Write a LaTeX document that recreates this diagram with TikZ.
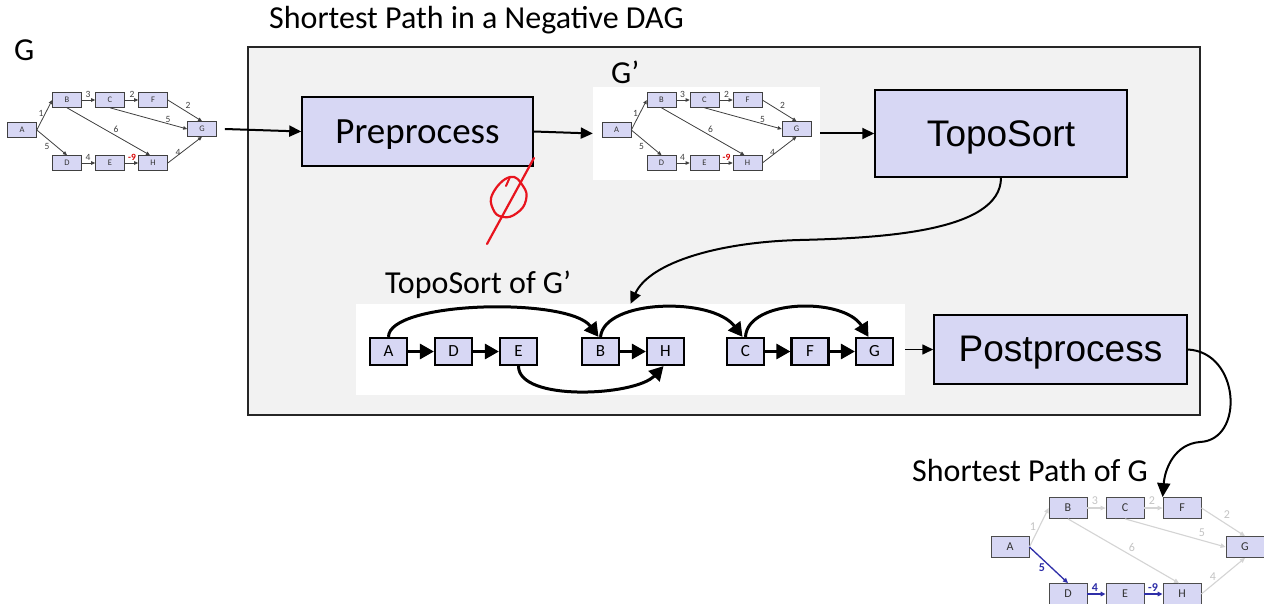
\documentclass[tikz,border=0pt]{standalone}
\usepackage{fontspec}
\setmainfont{Carlito}
\newfontfamily\arialfont{Liberation Sans}
\usetikzlibrary{arrows.meta}

\definecolor{panelgray}{RGB}{242,242,242}
\definecolor{lav}{RGB}{215,215,244}
\definecolor{edgegray}{RGB}{64,64,64}
\definecolor{fadegray}{RGB}{212,212,212}
\definecolor{fadetext}{RGB}{196,196,196}
\definecolor{pathblue}{RGB}{46,46,168}
\definecolor{inkred}{RGB}{232,20,30}

% lower a box label a little without changing the box size
\newcommand\lowered[1]{\raisebox{-3.5pt}[\height][\depth]{#1}}

\tikzset{
  caption/.style={inner sep=0pt, anchor=base west, font=\fontsize{32}{38}\selectfont},
  stagebox/.style={draw=black, fill=lav, line width=1.5pt, inner sep=0pt},
  flow/.style={line width=2pt, -{Triangle[length=12pt,width=11pt]}},
  mini/.style={draw=edgegray, fill=lav, line width=0.6pt, minimum width=29pt,
    minimum height=15pt, inner sep=0pt, font=\fontsize{8.5}{9}\selectfont, text=black!80},
  miniedge/.style={draw=edgegray, line width=0.8pt, -{Triangle[length=4pt,width=3.5pt]}},
  minilab/.style={inner sep=0pt, font=\fontsize{9.5}{10}\selectfont, text=edgegray},
  topo/.style={draw=black, fill=lav, line width=2.2pt, minimum width=37pt,
    minimum height=27pt, inner sep=0pt, font=\fontsize{17}{18}\selectfont},
  topoedge/.style={line width=3pt, -{Triangle[length=14pt,width=15pt]}},
  bnode/.style={draw=black!70, fill=lav, line width=0.8pt, minimum width=38pt,
    minimum height=21pt, inner sep=0pt, font=\fontsize{12}{12}\selectfont, text=black!80},
  fadeedge/.style={draw=fadegray, line width=1.1pt, -{Triangle[length=5pt,width=4.5pt]}},
  fadelab/.style={inner sep=0pt, font=\fontsize{12}{12}\selectfont, text=fadetext},
  blueedge/.style={draw=pathblue, line width=1.3pt, -{Triangle[length=5pt,width=4.5pt]}},
  bluelab/.style={inner sep=0pt, font=\bfseries\fontsize{12}{12}\selectfont, text=pathblue},
}

% the small example DAG; #1 = name prefix, #2 = offset
\newcommand\minidag[2]{%
  \begin{scope}[shift={(#2)}]
    \node[mini] (#1A) at (22,130) {A};
    \node[mini] (#1B) at (67,100) {B};
    \node[mini] (#1C) at (110,100) {C};
    \node[mini] (#1F) at (153,100) {F};
    \node[mini] (#1G) at (202,129) {G};
    \node[mini] (#1D) at (67,163) {D};
    \node[mini] (#1E) at (110,163) {E};
    \node[mini] (#1H) at (153,163) {H};
    \draw[miniedge] (#1A.east) -- (#1B.west);
    \draw[miniedge] (#1A.east) -- (#1D.north);
    \draw[miniedge] (#1B) -- (#1C);
    \draw[miniedge] (#1C) -- (#1F);
    \draw[miniedge] (#1F.east) -- (#1G.north);
    \draw[miniedge] (#1C.south) -- (#1G.west);
    \draw[miniedge] (#1B.south) -- ([xshift=-3pt]#1H.north);
    \draw[miniedge] (#1H.east) -- (#1G.south);
    \draw[miniedge] (#1D) -- (#1E);
    \draw[miniedge] (#1E) -- (#1H);
    \node[minilab] (#1wab) at (41,113) {1};
    \node[minilab] (#1wad) at (47,146) {5};
    \node[minilab] (#1wbc) at (88,94) {3};
    \node[minilab] (#1wcf) at (132,94) {2};
    \node[minilab] (#1wfg) at (188,105) {2};
    \node[minilab] (#1wcg) at (168,119) {5};
    \node[minilab] (#1wbh) at (116,129) {6};
    \node[minilab] (#1wde) at (88,157) {4};
    \node[minilab, text=red!85!black, font=\bfseries\fontsize{9.5}{10}\selectfont] (#1weh) at (132,157) {-9};
    \node[minilab] (#1whg) at (178,152) {4};
  \end{scope}}

\begin{document}
\begin{tikzpicture}[x=1pt,y=-1pt]
  \clip (0,0) rectangle (1264,604);
  \fill[white] (0,0) rectangle (1264,604);

  % framed algorithm panel
  \node[draw=black!85, fill=panelgray, line width=1.2pt, minimum width=952pt,
        minimum height=368pt, inner sep=0pt] (panel) at (724,231) {};
  \node[caption] (title) at (269,29) {Shortest Path in a Negative DAG};

  % input graph G
  \node[caption] (glabel) at (14,61) {G};
  \minidag{g}{0,0}

  % preprocessing step
  \node[stagebox, minimum width=231pt, minimum height=69pt,
        font=\fontsize{37}{40}\selectfont] (pre) at (417.5,131.5) {\lowered{Preprocess}};
  \draw[flow] ([xshift=8pt]gG.east) -- (pre.west);

  % transformed graph G'
  \node[fill=white, minimum width=227pt, minimum height=93pt, inner sep=0pt] (gpimg) at (706.5,133.5) {};
  \node[caption] (gplabel) at (611,84) {G’};
  \minidag{p}{594.5,0}
  \draw[flow] (pre.east) -- (gpimg.west);

  % crossed-out mark under the preprocessing box
  \draw[inkred, line width=2.2pt, line cap=round] (534,158) -- (487,244);
  \draw[inkred, line width=2.2pt, line join=round] plot[smooth cycle, tension=0.8]
    coordinates {(510,177) (523,186) (526,200) (517,213) (503,217) (493,209) (493,193)};
  \draw[inkred, line width=2pt, line cap=round] (506,186) -- (510,177);

  % topological sort step
  \node[stagebox, minimum width=252pt, minimum height=87pt,
        font=\arialfont\fontsize{37}{40}\selectfont] (ts) at (1001,133.5) {\lowered{TopoSort}};
  \draw[flow] (gpimg.east) -- (ts.west);

  % sorted order of G'
  \node[fill=white, minimum width=549pt, minimum height=91pt, inner sep=0pt] (topoimg) at (630.5,349.5) {};
  \node[caption] (toplabel) at (385,294) {TopoSort of G’};
  \draw[flow] (ts.south) .. controls (1001,232) and (880,238) .. (800,240)
              .. controls (720,242) and (650,262) .. (topoimg.north);

  \node[topo] (tA) at (388.5,351.5) {A};
  \node[topo] (tD) at (453.5,351.5) {D};
  \node[topo] (tE) at (518.5,351.5) {E};
  \node[topo] (tB) at (600.5,351.5) {B};
  \node[topo] (tH) at (665.5,351.5) {H};
  \node[topo] (tC) at (745.5,351.5) {C};
  \node[topo] (tF) at (810,351.5) {F};
  \node[topo] (tG) at (874.5,351.5) {G};
  \draw[topoedge] (tA) -- (tD);
  \draw[topoedge] (tD) -- (tE);
  \draw[topoedge] (tB) -- (tH);
  \draw[topoedge] (tC) -- (tF);
  \draw[topoedge] (tF) -- (tG);
  \draw[topoedge] (tA.north) .. controls +(0,-36) and +(-30,-40) .. ([xshift=-2pt]tB.north);
  \draw[topoedge] (tB.north) .. controls +(4,-38) and +(-30,-40) .. ([xshift=-3pt]tC.north);
  \draw[topoedge] (tC.north) .. controls +(2,-38) and +(-25,-40) .. ([xshift=-6pt]tG.north);
  \draw[topoedge] (tE.south) .. controls +(0,36) and +(-28,30) .. ([xshift=-2pt]tH.south);

  % postprocessing step
  \node[stagebox, minimum width=253pt, minimum height=69pt,
        font=\arialfont\fontsize{37}{40}\selectfont] (post) at (1060.5,349.5) {\lowered{Postprocess}};
  \draw[line width=1.6pt, -{Triangle[length=11pt,width=10pt]}] (topoimg.east) -- (post.west);

  % resulting shortest paths of G
  \node[caption] (splabel) at (912,481) {Shortest Path of G};
  \node[bnode] (bA) at (1010,547) {A};
  \node[bnode] (bB) at (1068,508) {B};
  \node[bnode] (bC) at (1125,508) {C};
  \node[bnode] (bF) at (1182,508) {F};
  \node[bnode] (bG) at (1245,547) {G};
  \node[bnode] (bD) at (1068,594) {D};
  \node[bnode] (bE) at (1125,594) {E};
  \node[bnode] (bH) at (1182,594) {H};
  \draw[fadeedge] (bA.east) -- (bB.west);
  \draw[fadeedge] (bB) -- (bC);
  \draw[fadeedge] (bC) -- (bF);
  \draw[fadeedge] (bF.east) -- (bG.north);
  \draw[fadeedge] (bC.south) -- (bG.west);
  \draw[fadeedge] (bB.south) -- ([xshift=-3pt]bH.north);
  \draw[fadeedge] (bH.east) -- (bG.south);
  \draw[blueedge] (bA.east) -- (bD.north);
  \draw[blueedge] (bD) -- (bE);
  \draw[blueedge] (bE) -- (bH);
  \node[fadelab] (bwab) at (1033,527) {1};
  \node[fadelab] (bwbc) at (1095,501) {3};
  \node[fadelab] (bwcf) at (1152,501) {2};
  \node[fadelab] (bwfg) at (1227,515) {2};
  \node[fadelab] (bwcg) at (1202,533) {5};
  \node[fadelab] (bwbh) at (1132,547) {6};
  \node[fadelab] (bwhg) at (1213,577) {4};
  \node[bluelab] (bwad) at (1042,568) {5};
  \node[bluelab] (bwde) at (1095,588) {4};
  \node[bluelab] (bweh) at (1153,588) {-9};

  \draw[line width=2pt, -{Triangle[length=14pt,width=13pt]}]
    (post.east) .. controls (1240,352) and (1245,440) .. (1200,442)
    .. controls (1175,444) and (1165,468) .. (bF.north west);
\end{tikzpicture}
\end{document}
